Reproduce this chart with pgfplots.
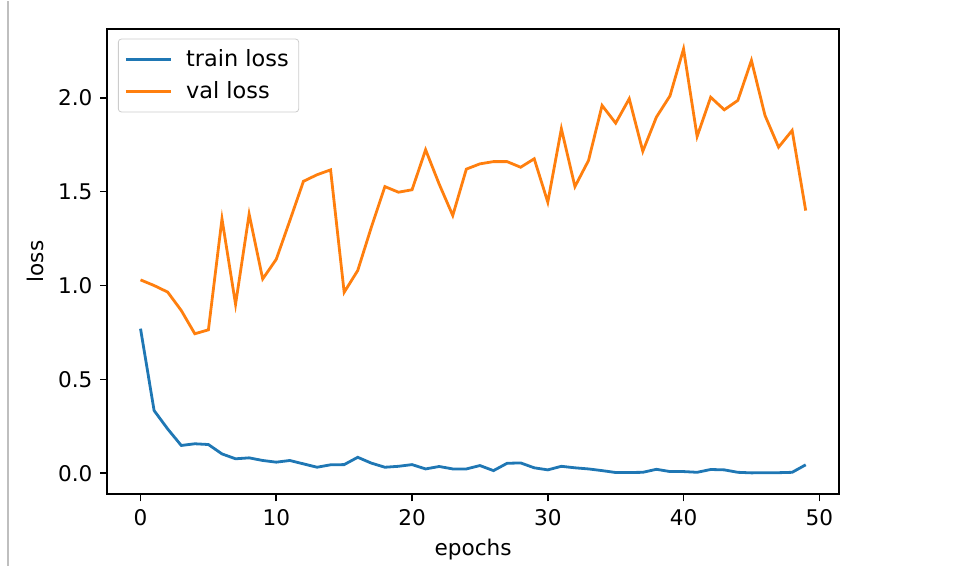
\documentclass[border=0pt]{standalone}
\usepackage{pgfplots}
\pgfplotsset{compat=1.18}
\usepackage{fontspec}
\setmainfont{DejaVu Sans}
\definecolor{tabblue}{HTML}{1F77B4}
\definecolor{taborange}{HTML}{FF7F0E}
\begin{document}
\fontsize{10.8}{13}\selectfont
\begin{tikzpicture}
\begin{axis}[
  scale only axis,
  width=365.85pt, height=232.7pt,
  xmin=-2.45, xmax=51.45,
  ymin=-0.112, ymax=2.367,
  xtick={0,10,20,30,40,50},
  ytick={0,0.5,1,1.5,2},
  yticklabel style={/pgf/number format/fixed,/pgf/number format/fixed zerofill,/pgf/number format/precision=1},
  /pgf/number format/assume math mode=true,
  tick align=outside,
  tick pos=left,
  major tick length=3.6pt,
  tick style={black, line width=0.8pt},
  axis line style={black, line width=0.8pt},
  every tick label/.append style={font=\fontsize{10.8}{13}\selectfont, black},
  xlabel={epochs},
  ylabel={loss},
  label style={font=\fontsize{10.8}{13}\selectfont},
  xlabel style={at={(axis description cs:0.5,-0.119)}, anchor=center},
  ylabel style={at={(axis description cs:-0.0988,0.5)}, anchor=center},
  legend image code/.code={\draw[#1] (0pt,0pt) -- (22.5pt,0pt);},
  legend style={at={(axis description cs:0.0146,0.979)}, anchor=north west,
    draw=black!20, rounded corners=1.5pt, font=\fontsize{11.2}{13.4}\selectfont,
    inner xsep=3pt, inner ysep=3pt, row sep=2.2pt,
    /tikz/every odd column/.append style={column sep=5pt}},
  legend cell align=left,
  clip=false,
]
\addplot[tabblue, line width=1.4pt] coordinates {
(0,0.77)(1,0.334)(2,0.236)(3,0.148)(4,0.157)(5,0.153)(6,0.103)(7,0.077)(8,0.082)(9,0.068)
(10,0.059)(11,0.068)(12,0.05)(13,0.032)(14,0.045)(15,0.046)(16,0.085)(17,0.054)(18,0.032)(19,0.037)
(20,0.046)(21,0.023)(22,0.036)(23,0.023)(24,0.023)(25,0.041)(26,0.014)(27,0.053)(28,0.055)(29,0.029)
(30,0.018)(31,0.037)(32,0.029)(33,0.023)(34,0.014)(35,0.004)(36,0.004)(37,0.005)(38,0.021)(39,0.009)
(40,0.009)(41,0.005)(42,0.02)(43,0.018)(44,0.005)(45,0.002)(46,0.003)(47,0.003)(48,0.005)(49,0.045)
};
\addlegendentry{train loss}
\addplot[taborange, line width=1.4pt] coordinates {
(0,1.03)(1,1.0)(2,0.965)(3,0.867)(4,0.743)(5,0.764)(6,1.355)(7,0.90)(8,1.38)(9,1.035)
(10,1.14)(11,1.346)(12,1.555)(13,1.59)(14,1.616)(15,0.964)(16,1.08)(17,1.31)(18,1.527)(19,1.497)
(20,1.51)(21,1.723)(22,1.54)(23,1.373)(24,1.62)(25,1.648)(26,1.66)(27,1.66)(28,1.63)(29,1.675)
(30,1.444)(31,1.835)(32,1.527)(33,1.666)(34,1.959)(35,1.865)(36,1.995)(37,1.715)(38,1.897)(39,2.01)
(40,2.26)(41,1.794)(42,2.003)(43,1.936)(44,1.986)(45,2.199)(46,1.906)(47,1.737)(48,1.826)(49,1.399)
};
\addlegendentry{val loss}
\path (rel axis cs:-0.1466,-0.1532) rectangle (rel axis cs:1.1613,1.0608);
\draw[black!25, line width=0.6pt] (rel axis cs:-0.1357,-0.1532) -- (rel axis cs:-0.1357,1.0608);
\end{axis}
\end{tikzpicture}
\end{document}
